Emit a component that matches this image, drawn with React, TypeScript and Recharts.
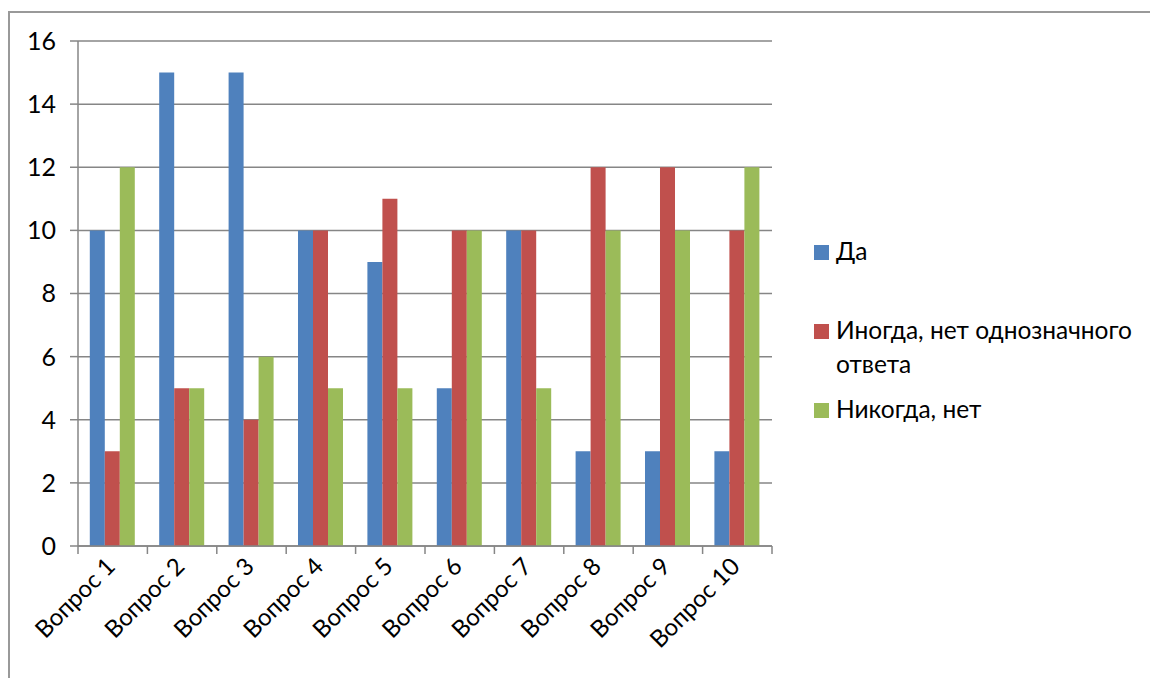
import React from "react";
import { BarChart, Bar, XAxis, YAxis, CartesianGrid } from "recharts";

const categories = [
  "Вопрос 1",
  "Вопрос 2",
  "Вопрос 3",
  "Вопрос 4",
  "Вопрос 5",
  "Вопрос 6",
  "Вопрос 7",
  "Вопрос 8",
  "Вопрос 9",
  "Вопрос 10",
];
const yes = [10, 15, 15, 10, 9, 5, 10, 3, 3, 3];
const sometimes = [3, 5, 4, 10, 11, 10, 10, 12, 12, 10];
const never = [12, 5, 6, 5, 5, 10, 5, 10, 10, 12];
const yTicks = [0, 2, 4, 6, 8, 10, 12, 14, 16];

const series = [
  { key: "yes", name: "Да", color: "#4F81BD", values: yes },
  { key: "sometimes", name: "Иногда, нет однозначного ответа", color: "#C0504D", values: sometimes },
  { key: "never", name: "Никогда, нет", color: "#9BBB59", values: never },
];

const data = categories.map((c, i) => ({
  name: c,
  yes: yes[i],
  sometimes: sometimes[i],
  never: never[i],
}));

const FONT = "Lato, 'Open Sans', sans-serif";
const GRID = "#868686";
const CHART_W = 780;
const CHART_H = 678;
const MARGIN = { top: 41, right: 8, bottom: 0, left: 8 };
const Y_W = 70;
const BAND = (CHART_W - MARGIN.left - MARGIN.right - Y_W) / categories.length;

// category labels rotated -45°, plus boundary tick marks like Excel
const CategoryTick = (props: any) => {
  const { x, y, payload, index } = props;
  const half = BAND / 2;
  const tx = x + 4;
  const ty = y + 22;
  return (
    <g>
      <line x1={x - half} x2={x - half} y1={y} y2={y + 8} stroke={GRID} strokeWidth={1.5} />
      {index === categories.length - 1 && (
        <line x1={x + half} x2={x + half} y1={y} y2={y + 8} stroke={GRID} strokeWidth={1.5} />
      )}
      <text
        x={tx}
        y={ty}
        transform={`rotate(-45, ${tx}, ${ty})`}
        textAnchor="end"
        fontSize={24}
        fontFamily={FONT}
        fill="#000"
      >
        {payload.value}
      </text>
    </g>
  );
};

export default function App() {
  return (
    <div
      style={{
        position: "absolute",
        left: 0,
        top: 0,
        width: 1150,
        height: 678,
        background: "#fff",
        overflow: "hidden",
      }}
    >
      <div
        style={{
          position: "absolute",
          left: 8,
          top: 11,
          width: 1160,
          height: 700,
          borderLeft: "2px solid #999",
          borderTop: "2px solid #999",
        }}
      />
      <div style={{ position: "absolute", left: 0, top: 0 }}>
        <BarChart
          width={CHART_W}
          height={CHART_H}
          data={data}
          margin={MARGIN}
          barGap={0}
          barCategoryGap="17%"
        >
          <CartesianGrid vertical={false} stroke={GRID} strokeWidth={1.5} />
          <XAxis
            dataKey="name"
            height={132}
            tickLine={false}
            tickSize={0}
            tickMargin={0}
            axisLine={{ stroke: GRID, strokeWidth: 1.5 }}
            tick={<CategoryTick />}
            interval={0}
          />
          <YAxis
            width={Y_W}
            domain={[0, 16]}
            ticks={yTicks}
            interval={0}
            tickSize={8}
            tickMargin={14}
            tickLine={{ stroke: GRID, strokeWidth: 1.5 }}
            axisLine={{ stroke: GRID, strokeWidth: 1.5 }}
            tick={{ fontSize: 25, fontFamily: FONT, fill: "#000" }}
          />
          {series.map((s) => (
            <Bar
              key={s.key}
              dataKey={s.key}
              name={s.name}
              fill={s.color}
              isAnimationActive={false}
            />
          ))}
        </BarChart>
      </div>
      <div
        style={{
          position: "absolute",
          left: 814,
          top: 0,
          width: 336,
          fontFamily: FONT,
          fontSize: 24.5,
          lineHeight: "34px",
          color: "#000",
        }}
      >
        {series.map((s, i) => (
          <div
            key={s.key}
            style={{
              position: "absolute",
              left: 0,
              top: [234, 313, 392][i],
              display: "flex",
              alignItems: "flex-start",
              width: 336,
            }}
          >
            <span
              style={{
                display: "inline-block",
                width: 15,
                height: 15,
                background: s.color,
                marginTop: 11,
                marginRight: 7,
                flexShrink: 0,
              }}
            />
            <span style={{ width: 314 }}>{s.name}</span>
          </div>
        ))}
      </div>
    </div>
  );
}
